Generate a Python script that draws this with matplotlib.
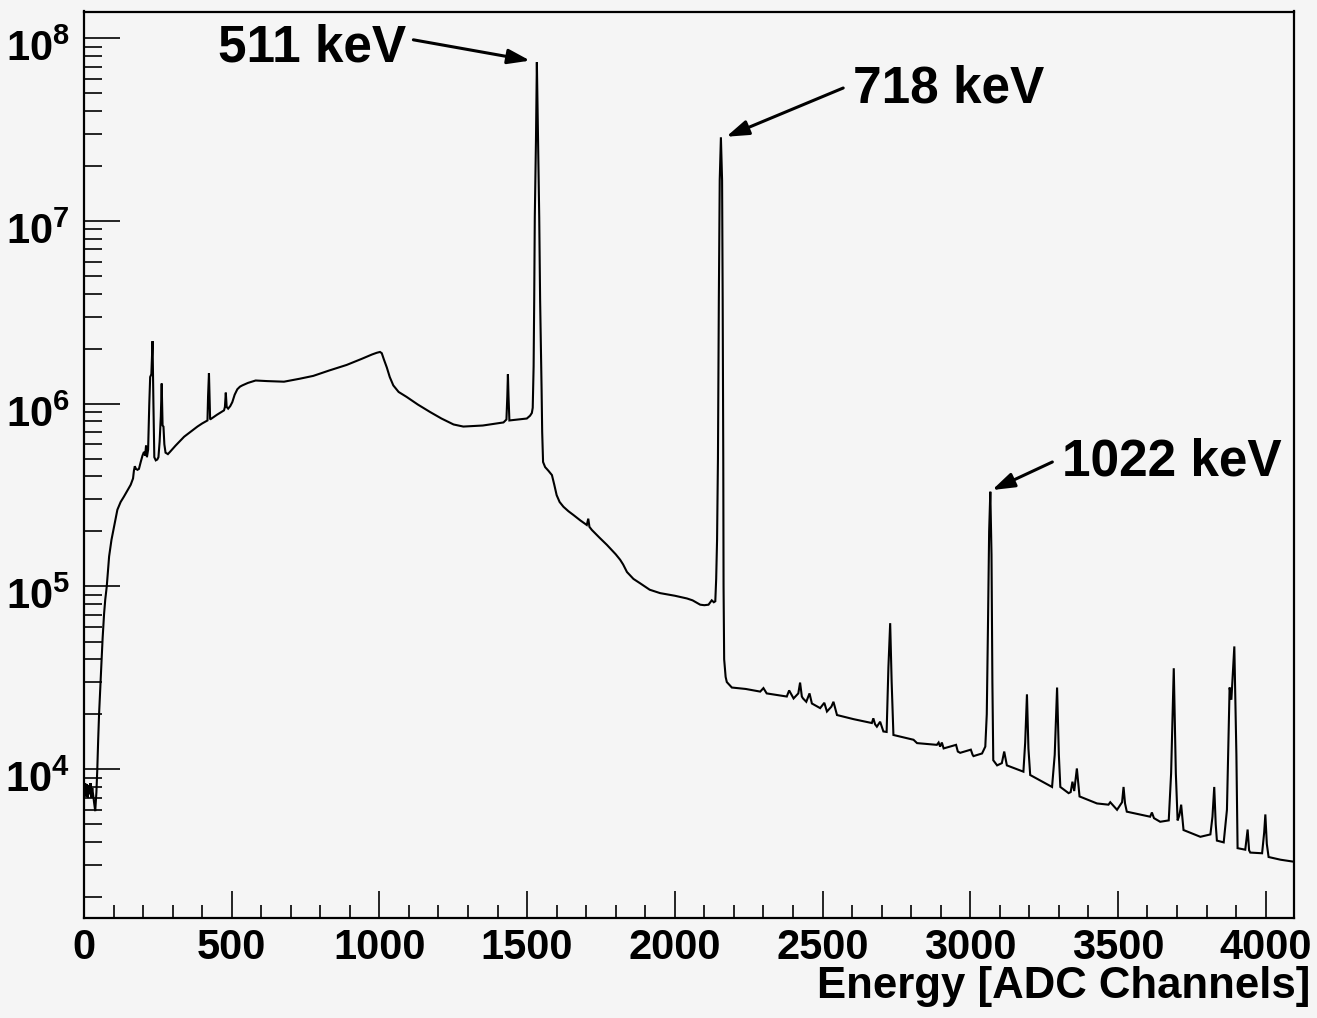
import matplotlib
matplotlib.use("Agg")
import matplotlib.pyplot as plt
import matplotlib.transforms as mtransforms
from matplotlib.ticker import FixedLocator, FixedFormatter, LogLocator, NullFormatter, MultipleLocator

plt.rcParams['font.family'] = ['Liberation Sans', 'DejaVu Sans']
plt.rcParams['font.weight'] = 'bold'
plt.rcParams['mathtext.fontset'] = 'custom'
plt.rcParams['mathtext.rm'] = 'Liberation Sans:bold'
plt.rcParams['mathtext.it'] = 'Liberation Sans:bold'
plt.rcParams['mathtext.bf'] = 'Liberation Sans:bold'

# ---- data (channel, counts) ----
channels = [
    1, 4, 7, 10, 13, 16, 19, 22, 25, 28, 31, 34, 38, 42, 45,
    48, 51, 55, 59, 63, 68, 72, 77, 85, 93, 102, 113, 124, 135, 147, 158, 166, 169, 172, 176,
    181, 186, 192, 198, 203, 207, 210, 213, 217, 221, 224, 228, 232, 235, 238, 243, 248, 252,
    256, 260, 263, 266, 269, 272, 276, 284, 291, 310, 339, 360, 384, 400, 418, 420, 423, 425,
    427, 450, 474, 477, 480, 483, 488, 495, 502, 510, 519, 528, 536, 555, 581, 620, 677, 730,
    776, 830, 889, 940, 975, 991, 1002, 1008, 1015, 1025, 1035, 1047, 1065, 1092, 1130, 1172,
    1210, 1251, 1284, 1350, 1420, 1430, 1433, 1435, 1437, 1440, 1470, 1499, 1510, 1516,
    1519, 1522, 1524, 1526, 1530, 1533, 1537, 1541, 1544, 1549, 1551, 1554,
    1561, 1572, 1584, 1592, 1600, 1610, 1623, 1640, 1657, 1680, 1702, 1707, 1711, 1719, 1745,
    1770, 1790, 1800, 1815, 1825, 1838, 1860, 1883, 1915, 1950, 2000, 2041, 2060, 2086, 2100,
    2114, 2125, 2132, 2137,
    2140, 2143, 2146, 2149, 2152, 2156, 2160, 2162, 2164, 2165, 2167, 2172, 2176,
    2193, 2240, 2289, 2300, 2311, 2379, 2387, 2402, 2418, 2424, 2430, 2434, 2445, 2456, 2464,
    2492, 2506, 2515, 2530, 2537, 2549, 2605, 2667, 2672, 2678, 2684, 2695, 2706, 2717, 2723,
    2729, 2734, 2740, 2808, 2820, 2887, 2893, 2898, 2904, 2910, 2952, 2958, 2966, 3002, 3008,
    3011, 3040, 3051,
    3056, 3060, 3064, 3068, 3072, 3075, 3078,
    3091, 3107, 3115, 3124, 3180, 3186, 3192, 3197, 3203, 3277, 3286, 3294, 3300, 3305, 3333,
    3340, 3346, 3352, 3361, 3370, 3429, 3468, 3474, 3497, 3514, 3519, 3524, 3530, 3609, 3615,
    3622, 3643, 3672, 3680, 3689, 3696, 3702, 3708, 3714, 3722, 3779, 3813, 3820, 3826, 3831,
    3835, 3858, 3869, 3878, 3884, 3894, 3901, 3905, 3931, 3939, 3944, 3948, 3988, 3995, 3999,
    4004, 4010, 4050, 4095,
]
counts = [
    7.8e3, 8.4e3, 7.1e3, 8.3e3, 7.0e3, 8.2e3, 7.3e3, 8.4e3, 7.0e3, 7.9e3, 7.2e3, 6.6e3, 5.9e3, 7.5e3, 1.0e4,
    1.45e4, 2.0e4, 2.8e4, 3.8e4, 5.2e4, 7.1e4, 8.5e4, 1.0e5, 1.46e5, 1.8e5, 2.13e5, 2.63e5, 2.9e5, 3.1e5, 3.35e5, 3.6e5, 3.9e5, 4.3e5, 4.55e5, 4.4e5,
    4.35e5, 4.4e5, 4.8e5, 5.2e5, 5.45e5, 5.2e5, 5.9e5, 5.1e5, 5.6e5, 1.0e6, 1.4e6, 1.45e6, 2.2e6, 1.0e6, 5.1e5, 4.9e5, 4.95e5, 5.1e5,
    6.2e5, 8.5e5, 1.29e6, 7.6e5, 7.5e5, 6.0e5, 5.4e5, 5.3e5, 5.45e5, 5.9e5, 6.6e5, 7.0e5, 7.5e5, 7.8e5, 8.1e5, 1.1e6, 1.47e6, 1.1e6,
    8.2e5, 8.7e5, 9.2e5, 9.6e5, 1.15e6, 9.6e5, 9.4e5, 9.7e5, 1.02e6, 1.12e6, 1.2e6, 1.24e6, 1.26e6, 1.3e6, 1.34e6, 1.33e6, 1.32e6, 1.37e6,
    1.42e6, 1.52e6, 1.63e6, 1.76e6, 1.86e6, 1.9e6, 1.92e6, 1.89e6, 1.75e6, 1.58e6, 1.4e6, 1.26e6, 1.16e6, 1.09e6, 9.9e5, 9.0e5,
    8.3e5, 7.7e5, 7.5e5, 7.6e5, 7.9e5, 8.2e5, 1.1e6, 1.45e6, 1.1e6, 8.1e5, 8.2e5, 8.3e5, 8.6e5, 8.9e5,
    9.5e5, 1.6e6, 3.7e6, 1.05e7, 2.8e7, 7.4e7, 2.8e7, 1.05e7, 3.7e6, 1.2e6, 7.0e5, 4.8e5,
    4.5e5, 4.3e5, 4.07e5, 3.6e5, 3.16e5, 2.9e5, 2.73e5, 2.58e5, 2.46e5, 2.3e5, 2.17e5, 2.35e5, 2.12e5, 2.04e5, 1.85e5,
    1.69e5, 1.56e5, 1.5e5, 1.4e5, 1.32e5, 1.2e5, 1.1e5, 1.04e5, 9.6e4, 9.2e4, 8.9e4, 8.6e4, 8.4e4, 7.95e4, 7.9e4,
    7.95e4, 8.4e4, 8.2e4, 8.3e4,
    1.1e5, 1.8e5, 5.0e5, 3.7e6, 1.67e7, 2.87e7, 1.67e7, 3.7e6, 5.0e5, 1.0e5, 4.0e4, 3.2e4, 3.0e4,
    2.8e4, 2.75e4, 2.66e4, 2.78e4, 2.6e4, 2.5e4, 2.7e4, 2.44e4, 2.6e4, 2.98e4, 2.5e4, 2.44e4, 2.34e4, 2.6e4, 2.29e4,
    2.16e4, 2.31e4, 2.07e4, 2.2e4, 2.34e4, 1.98e4, 1.88e4, 1.79e4, 1.9e4, 1.76e4, 1.71e4, 1.82e4, 1.61e4, 1.6e4, 3.6e4,
    6.3e4, 3.0e4, 1.54e4, 1.45e4, 1.39e4, 1.36e4, 1.4e4, 1.33e4, 1.4e4, 1.3e4, 1.36e4, 1.25e4, 1.23e4, 1.28e4, 1.2e4,
    1.18e4, 1.22e4, 1.33e4,
    2.0e4, 6.0e4, 2.0e5, 3.3e5, 1.5e5, 3.0e4, 1.12e4,
    1.05e4, 1.08e4, 1.25e4, 1.05e4, 9.7e3, 1.4e4, 2.57e4, 1.3e4, 9.3e3, 8.0e3, 1.2e4, 2.8e4, 1.2e4, 8.0e3, 7.4e3,
    7.5e3, 8.55e3, 7.6e3, 1.01e4, 7.1e3, 6.5e3, 6.4e3, 6.6e3, 6.0e3, 6.6e3, 8.0e3, 6.5e3, 5.86e3, 5.5e3, 5.8e3,
    5.4e3, 5.16e3, 5.25e3, 9.5e3, 3.57e4, 9.5e3, 5.25e3, 5.6e3, 6.4e3, 4.65e3, 4.27e3, 4.4e3, 5.5e3, 8.0e3, 5.0e3,
    4.07e3, 3.98e3, 6.0e3, 2.8e4, 2.4e4, 4.7e4, 1.2e4, 3.7e3, 3.63e3, 4.68e3, 3.6e3, 3.5e3, 3.47e3, 4.5e3, 5.66e3,
    3.9e3, 3.31e3, 3.2e3, 3.12e3,
]

x_ticks = [0, 500, 1000, 1500, 2000, 2500, 3000, 3500, 4000]
x_tick_labels = ['0', '500', '1000', '1500', '2000', '2500', '3000', '3500', '4000']
y_ticks = [1e4, 1e5, 1e6, 1e7, 1e8]
y_tick_labels = [r'$10^{4}$', r'$10^{5}$', r'$10^{6}$', r'$10^{7}$', r'$10^{8}$']

peak_labels = ['511 keV', '718 keV', '1022 keV']
peak_heads_x = [1510, 2174, 3074]
peak_heads_y = [7.54e7, 2.89e7, 3.37e5]
arrow_tails_x = [1115, 2570, 3278]
arrow_tails_y = [9.8e7, 5.34e7, 4.8e5]
label_x = [454, 2604, 3312]
label_y = [7.45e7, 4.43e7, 4.07e5]

bg = '#f5f5f5'
W, H = 1317, 1018
fig = plt.figure(figsize=(W / 100, H / 100), dpi=100, facecolor=bg)
ax = fig.add_axes([84 / W, 100 / H, 1210 / W, 906.5 / H], facecolor=bg)

ax.plot(channels, counts, color='black', lw=1.5, solid_joinstyle='miter')
ax.set_yscale('log')
ax.set_xlim(0, 4096)
ax.set_ylim(1535, 1.40e8)

ax.xaxis.set_major_locator(FixedLocator(x_ticks))
ax.xaxis.set_major_formatter(FixedFormatter(x_tick_labels))
ax.xaxis.set_minor_locator(MultipleLocator(100))
ax.yaxis.set_major_locator(FixedLocator(y_ticks))
ax.yaxis.set_major_formatter(NullFormatter())
ax.yaxis.set_minor_locator(LogLocator(base=10, subs=[2, 3, 4, 5, 6, 7, 8, 9], numticks=30))
ax.yaxis.set_minor_formatter(NullFormatter())

ax.tick_params(axis='both', which='both', direction='in', top=False, right=False,
               color='black', width=1.2, labelsize=30)
ax.tick_params(axis='x', which='major', length=19.5, pad=7)
ax.tick_params(axis='x', which='minor', length=9.5)
ax.tick_params(axis='y', which='major', length=26)
ax.tick_params(axis='y', which='minor', length=13)
for lab in ax.get_xticklabels():
    lab.set_fontweight('bold')

# y tick labels placed like ROOT's (baseline below the tick)
ytrans = mtransforms.offset_copy(ax.get_yaxis_transform(), fig=fig, x=-14, y=-23, units='dots')
for val, txt in zip(y_ticks, y_tick_labels):
    ax.text(0, val, txt, transform=ytrans, ha='right', va='baseline',
            fontsize=30, fontweight='bold', clip_on=False)

for s in ax.spines.values():
    s.set_linewidth(1.6)
    s.set_color('black')

ax.set_xlabel('Energy [ADC Channels]', fontsize=31.5, fontweight='bold')
ax.xaxis.set_label_coords((1310 - 84) / 1210, (20 - 100) / 906.5)
ax.xaxis.label.set_ha('right')
ax.xaxis.label.set_va('baseline')

for lab, hx, hy, tx, ty, lx, ly in zip(peak_labels, peak_heads_x, peak_heads_y,
                                       arrow_tails_x, arrow_tails_y, label_x, label_y):
    ax.annotate('', xy=(hx, hy), xytext=(tx, ty),
                arrowprops=dict(arrowstyle='-|>,head_length=0.9,head_width=0.3',
                                mutation_scale=15, lw=2.2, color='black',
                                shrinkA=0, shrinkB=0))
    ax.text(lx, ly, lab, fontsize=37, fontweight='bold', ha='left', va='baseline')

fig.savefig('out.png', dpi=100, facecolor=bg)
